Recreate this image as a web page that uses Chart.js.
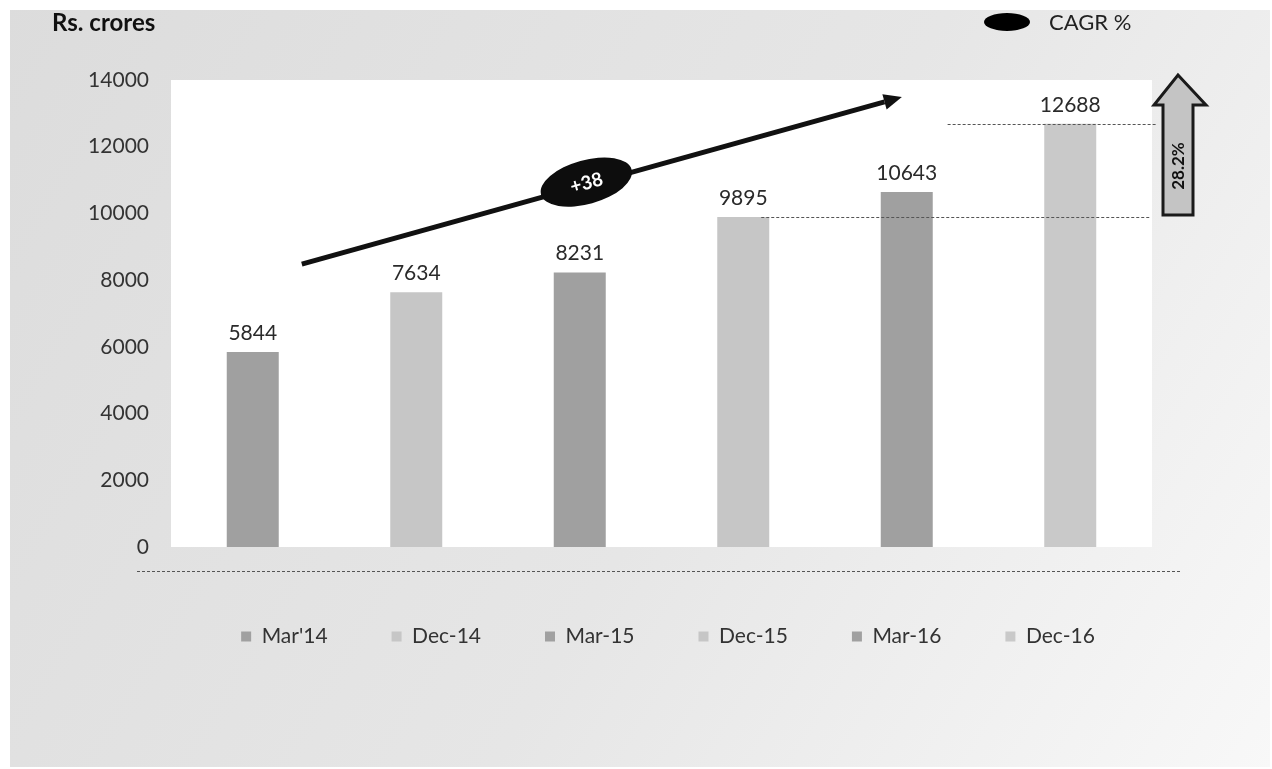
<!DOCTYPE html>
<html><head><meta charset="utf-8">
<script src="https://cdn.jsdelivr.net/npm/chart.js@4.4.0/dist/chart.umd.min.js"></script>
<style>html,body{margin:0;padding:0;background:#fff;overflow:hidden}</style>
</head><body>
<canvas id="c" width="1272" height="769" style="display:block;width:1272px;height:769px"></canvas>
<script>
const categories = ["Mar'14", "Dec-14", "Mar-15", "Dec-15", "Mar-16", "Dec-16"];
const values = [5844, 7634, 8231, 9895, 10643, 12688];
const yTickValues = [0, 2000, 4000, 6000, 8000, 10000, 12000, 14000];
const barColors = ["#a0a0a0", "#c6c6c6", "#a0a0a0", "#c6c6c6", "#a0a0a0", "#c9c9c9"];
const unitLabel = "Rs. crores";
const cagrLegendLabel = "CAGR %";
const cagrBadge = "+38";
const growthLabel = "28.2%";

const FONT = "Lato, 'DejaVu Sans', sans-serif";

const decor = {
  id: 'decor',
  afterLayout(chart) {
    const lg = chart.legend;
    if (!lg || !lg.lineWidths) return;
    const pad = lg.options.labels.padding;
    const W = lg.lineWidths[0];
    const start = (lg.left + pad + lg.right - W) / 2;
    const center = start + (W - pad) / 2;
    const dx = 668 - center;
    lg.left += dx; lg.right += dx;
  },
  beforeDraw(chart) {
    const ctx = chart.ctx, ca = chart.chartArea;
    ctx.save();
    ctx.fillStyle = '#ffffff';
    ctx.fillRect(0, 0, chart.width, chart.height);
    const g = ctx.createLinearGradient(0, 0, chart.width, chart.height);
    g.addColorStop(0, '#dcdcdc');
    g.addColorStop(0.55, '#e6e6e6');
    g.addColorStop(1, '#f8f8f8');
    ctx.fillStyle = g;
    ctx.fillRect(10, 10, chart.width - 12, chart.height - 12);
    ctx.fillStyle = '#ffffff';
    ctx.fillRect(ca.left, ca.top, ca.right - ca.left, ca.bottom - ca.top);
    ctx.restore();
  },
  afterDatasetsDraw(chart) {
    const ctx = chart.ctx, ca = chart.chartArea;
    const xs = chart.scales.x, ys = chart.scales.y;
    const meta = chart.getDatasetMeta(0);
    ctx.save();
    // value labels
    ctx.fillStyle = '#2a2a2a';
    ctx.font = "21px " + FONT;
    ctx.textAlign = 'center';
    ctx.textBaseline = 'alphabetic';
    meta.data.forEach((bar, i) => {
      ctx.fillText(String(values[i]), bar.x, bar.y - 12);
    });
    // dashed reference lines
    ctx.strokeStyle = '#555';
    ctx.lineWidth = 1;
    ctx.setLineDash([3, 2]);
    let y1 = Math.round(ys.getPixelForValue(values[3])) + 0.5;
    ctx.beginPath(); ctx.moveTo(xs.getPixelForValue(3.11), y1); ctx.lineTo(ca.right - 2, y1); ctx.stroke();
    let y2 = Math.round(ys.getPixelForValue(values[5])) + 0.5;
    ctx.beginPath(); ctx.moveTo(xs.getPixelForValue(4.25), y2); ctx.lineTo(ca.right + 5, y2); ctx.stroke();
    // bottom dashed line
    ctx.beginPath(); ctx.moveTo(137, ca.bottom + 24.5); ctx.lineTo(1182, ca.bottom + 24.5); ctx.stroke();
    ctx.setLineDash([]);

    // CAGR trend arrow
    const p1 = {x: xs.getPixelForValue(0.3), y: ys.getPixelForValue(8480)};
    const p2 = {x: xs.getPixelForValue(3.97), y: ys.getPixelForValue(13490)};
    const ang = Math.atan2(p2.y - p1.y, p2.x - p1.x);
    const headL = 18, headW = 8;
    const bx = p2.x - headL * Math.cos(ang), by = p2.y - headL * Math.sin(ang);
    ctx.strokeStyle = '#111';
    ctx.fillStyle = '#111';
    ctx.lineWidth = 5;
    ctx.lineCap = 'butt';
    ctx.beginPath(); ctx.moveTo(p1.x, p1.y); ctx.lineTo(bx, by); ctx.stroke();
    ctx.beginPath();
    ctx.moveTo(p2.x, p2.y);
    ctx.lineTo(bx + headW * Math.sin(ang), by - headW * Math.cos(ang));
    ctx.lineTo(bx - headW * Math.sin(ang), by + headW * Math.cos(ang));
    ctx.closePath(); ctx.fill();

    // badge ellipse
    const ex = xs.getPixelForValue(2.04), ey = ys.getPixelForValue(10940);
    ctx.save();
    ctx.translate(ex, ey); ctx.rotate(ang);
    ctx.beginPath(); ctx.ellipse(0, 0, 47, 22, 0, 0, Math.PI * 2); ctx.fillStyle = '#0d0d0d'; ctx.fill();
    ctx.fillStyle = '#fff'; ctx.font = "bold 19px " + FONT; ctx.textAlign = 'center'; ctx.textBaseline = 'middle';
    ctx.fillText(cagrBadge, 0, 1);
    ctx.restore();

    // block up arrow at right
    const cx = ca.right + 26;
    const yb = ys.getPixelForValue(9895) - 2;
    const yHeadBase = ys.getPixelForValue(13250);
    const yTop = ys.getPixelForValue(14150);
    ctx.beginPath();
    ctx.moveTo(cx - 15, yb);
    ctx.lineTo(cx - 15, yHeadBase);
    ctx.lineTo(cx - 24, yHeadBase);
    ctx.lineTo(cx, yTop);
    ctx.lineTo(cx + 28, yHeadBase);
    ctx.lineTo(cx + 15, yHeadBase);
    ctx.lineTo(cx + 15, yb);
    ctx.closePath();
    ctx.fillStyle = '#c4c4c4'; ctx.fill();
    ctx.lineWidth = 3; ctx.strokeStyle = '#1a1a1a'; ctx.lineJoin = 'miter'; ctx.stroke();
    ctx.save();
    ctx.translate(cx + 1, (yb + yHeadBase) / 2 + 6);
    ctx.rotate(-Math.PI / 2);
    ctx.fillStyle = '#111'; ctx.font = "bold 17px " + FONT; ctx.textAlign = 'center'; ctx.textBaseline = 'middle';
    ctx.fillText(growthLabel, 0, 0);
    ctx.restore();

    // header texts
    ctx.fillStyle = '#111';
    ctx.font = "bold 24px " + FONT; ctx.textAlign = 'left'; ctx.textBaseline = 'middle';
    ctx.fillText(unitLabel, 52, 23);
    ctx.beginPath(); ctx.ellipse(1007, 22, 23, 9, 0, 0, Math.PI * 2); ctx.fillStyle = '#000'; ctx.fill();
    ctx.fillStyle = '#222'; ctx.font = "22px " + FONT;
    ctx.fillText(cagrLegendLabel, 1049, 23);
    ctx.restore();
  }
};

new Chart(document.getElementById('c'), {
  type: 'bar',
  data: {
    labels: categories,
    datasets: [{
      data: values,
      backgroundColor: barColors,
      borderWidth: 0,
      barPercentage: 0.318,
      categoryPercentage: 1
    }]
  },
  options: {
    responsive: false,
    animation: false,
    devicePixelRatio: 1,
    layout: { padding: { top: 80, left: 0, right: 120, bottom: 112 } },
    scales: {
      x: {
        ticks: { display: false },
        grid: { display: false, drawTicks: false },
        border: { display: false },
        afterFit(s) { s.height = 15; }
      },
      y: {
        min: 0, max: 14000,
        afterBuildTicks(s) { s.ticks = yTickValues.map(v => ({ value: v })); },
        ticks: { font: { family: FONT, size: 21 }, color: '#333', padding: 22, callback: v => String(v) },
        grid: { display: false, drawTicks: false },
        border: { display: false },
        afterFit(s) { s.width = 171; }
      }
    },
    plugins: {
      tooltip: { enabled: false },
      legend: {
        position: 'bottom',
        onClick: () => {},
        labels: {
          boxWidth: 10, boxHeight: 10, padding: 64,
          color: '#333',
          font: { family: FONT, size: 21 },
          generateLabels(chart) {
            const ds = chart.data.datasets[0];
            return chart.data.labels.map((l, i) => ({
              text: l, fillStyle: ds.backgroundColor[i], strokeStyle: ds.backgroundColor[i],
              lineWidth: 0, hidden: false, index: i, datasetIndex: 0, fontColor: '#333'
            }));
          }
        }
      }
    }
  },
  plugins: [decor]
});
</script>
</body></html>
